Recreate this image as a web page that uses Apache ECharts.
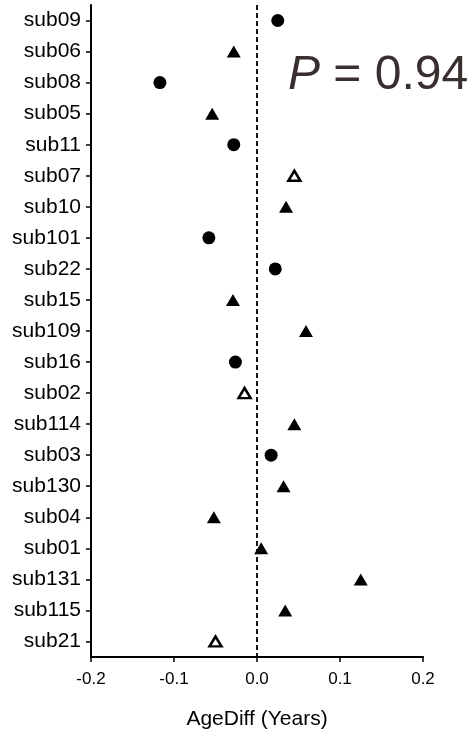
<!DOCTYPE html>
<html>
<head>
<meta charset="utf-8">
<script src="https://cdn.jsdelivr.net/npm/echarts@6/dist/echarts.min.js"></script>
<style>
  html, body { margin: 0; padding: 0; background: #fff; }
  #chart { width: 473px; height: 740px; }
</style>
</head>
<body>
<div id="chart"></div>
<script>
// subjects, top to bottom
const subjects = ['sub09', 'sub06', 'sub08', 'sub05', 'sub11', 'sub07', 'sub10', 'sub101', 'sub22', 'sub15',
  'sub109', 'sub16', 'sub02', 'sub114', 'sub03', 'sub130', 'sub04', 'sub01', 'sub131', 'sub115', 'sub21'];

// filled circles
const circleSubjects = ['sub09', 'sub08', 'sub11', 'sub101', 'sub22', 'sub16', 'sub03'];
const circleValues = [0.025, -0.117, -0.028, -0.058, 0.022, -0.026, 0.017];

// filled triangles
const triSubjects = ['sub06', 'sub05', 'sub10', 'sub15', 'sub109', 'sub114', 'sub130', 'sub04', 'sub01', 'sub131', 'sub115'];
const triValues = [-0.028, -0.054, 0.035, -0.029, 0.059, 0.045, 0.032, -0.052, 0.005, 0.125, 0.034];

// open triangles
const openSubjects = ['sub07', 'sub02', 'sub21'];
const openValues = [0.045, -0.015, -0.050];

const xTicks = [-0.2, -0.1, 0.0, 0.1, 0.2];
const pText = '0.94';

const font = '"Liberation Sans", Arial, Helvetica, sans-serif';

function pairs(names, vals) {
  return names.map((n, i) => [vals[i], n]);
}

const chart = echarts.init(document.getElementById('chart'));
chart.setOption({
  animation: false,
  backgroundColor: '#fff',
  title: {
    text: '{i|P} = ' + pText,
    left: 283,
    top: 47,
    textStyle: {
      fontFamily: font,
      fontSize: 48,
      fontWeight: 'normal',
      color: '#3a2f2f',
      rich: {
        i: { fontFamily: font, fontSize: 48, fontStyle: 'italic', color: '#3a2f2f' }
      }
    }
  },
  grid: { left: 91, right: 50, top: 5, bottom: 83 },
  xAxis: {
    type: 'value',
    min: xTicks[0],
    max: xTicks[xTicks.length - 1],
    interval: 0.1,
    name: 'AgeDiff (Years)',
    nameLocation: 'middle',
    nameGap: 52,
    nameTextStyle: { fontFamily: font, fontSize: 21, color: '#000' },
    axisLine: { show: true, onZero: false, lineStyle: { color: '#000', width: 2 } },
    axisTick: { show: true, length: 5, lineStyle: { color: '#000', width: 1.5 } },
    axisLabel: {
      margin: 14,
      fontFamily: font,
      fontSize: 17,
      color: '#000',
      formatter: v => v.toFixed(1)
    },
    splitLine: { show: false }
  },
  yAxis: {
    type: 'category',
    data: subjects,
    inverse: true,
    axisLine: { show: true, onZero: false, lineStyle: { color: '#000', width: 2 } },
    axisTick: { show: true, alignWithLabel: true, length: 5, lineStyle: { color: '#000', width: 1.5 } },
    axisLabel: { margin: 10, fontFamily: font, fontSize: 21, color: '#000' },
    splitLine: { show: false }
  },
  series: [
    {
      type: 'scatter',
      data: pairs(circleSubjects, circleValues),
      symbol: 'circle',
      symbolSize: 13,
      itemStyle: { color: '#000', opacity: 1 },
      markLine: {
        silent: true,
        symbol: 'none',
        label: { show: false },
        lineStyle: { color: '#000', type: [5, 3], width: 1.8 },
        data: [{ xAxis: 0 }]
      }
    },
    {
      type: 'scatter',
      data: pairs(triSubjects, triValues),
      symbol: 'triangle',
      symbolSize: [14, 12],
      itemStyle: { color: '#000', opacity: 1 }
    },
    {
      type: 'scatter',
      data: pairs(openSubjects, openValues),
      symbol: 'triangle',
      symbolSize: [12, 10],
      itemStyle: { color: '#fff', borderColor: '#000', borderWidth: 2.5, opacity: 1 }
    }
  ]
});
</script>
</body>
</html>
